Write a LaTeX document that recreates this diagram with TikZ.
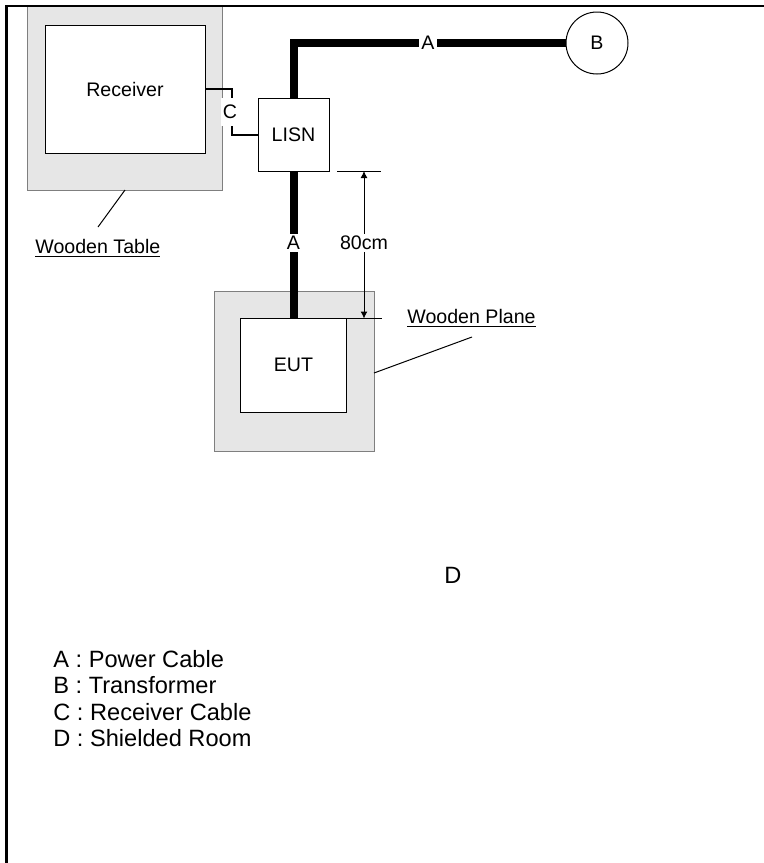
\documentclass[tikz,border=0pt]{standalone}
\usepackage{fontspec}
\setmainfont{Liberation Sans}
\usetikzlibrary{arrows.meta}
\definecolor{wood}{HTML}{E6E6E6}
\definecolor{woodedge}{HTML}{7F7F7F}
\begin{document}
\begin{tikzpicture}[x=0.5pt,y=-0.5pt,font=\fontsize{9.8}{11.8}\selectfont,
 box/.style={draw,fill=white,line width=.5pt,inner sep=0pt},
 pcable/.style={line width=4pt},
 ccable/.style={line width=1pt},
 lbl/.style={fill=white,inner sep=1pt},
 legend/.style={anchor=base west,inner sep=0pt,font=\fontsize{11.8}{14}\selectfont},
 dimtip/.style={{Latex[length=3.5pt,width=3.5pt]}-{Latex[length=3.5pt,width=3.5pt]}}]
\useasboundingbox(0,0)rectangle(764,863);
\draw[woodedge,fill=wood,line width=.5pt](27,6)rectangle(222,190);
\draw[woodedge,fill=wood,line width=.5pt](214,291)rectangle(374,451);
\node[box,minimum width=80pt,minimum height=64pt](rx)at(125,89){Receiver};
\node[box,minimum width=35.5pt,minimum height=36.5pt](lisn)at(293.5,134.5){LISN};
\node[box,minimum width=53pt,minimum height=47pt](eut)at(293.5,365){EUT};
\node[draw,circle,minimum size=31pt,inner sep=0pt,line width=.5pt](tr)at(597,43){B};
\draw[pcable](tr.west)-|(lisn.north);\draw[pcable](lisn.south)--(eut.north);
\node[lbl](a1)at(428,43){A};
\node[lbl](a2)at(293.5,243){A};
\coordinate(cc)at(232,112);
\draw[ccable](rx.east)-|(cc)|-(lisn.west);
\node[fill=white,inner xsep=1pt,inner ysep=3.5pt](cl)at(230,112){C};
\draw[line width=.5pt](337,171)--(381,171);\draw[line width=.5pt](337,318.5)--(382,318.5);
\draw[line width=.5pt,dimtip](364,171)--(364,318.5);
\node[lbl](dim)at(364,243){80cm};
\draw[line width=.5pt](125,190)--(98,227);
\node[anchor=base west,inner sep=0pt](wt)at(35,253){\underline{Wooden Table}};
\draw[line width=.5pt](374,373)--(472,337);
\node[anchor=base west,inner sep=0pt](wp)at(407,323){\underline{Wooden Plane}};
\node[font=\fontsize{11.8}{14}\selectfont](rm)at(453,575){D};
\foreach \t [count=\i] in {A : Power Cable,B : Transformer,C : Receiver Cable,D : Shielded Room}
 \node[legend](lg\i)at(53,{667+26.5*(\i-1)}){\t};
\draw[line width=1.1pt](6.5,870)--(6.5,6)--(770,6);
\end{tikzpicture}
\end{document}
